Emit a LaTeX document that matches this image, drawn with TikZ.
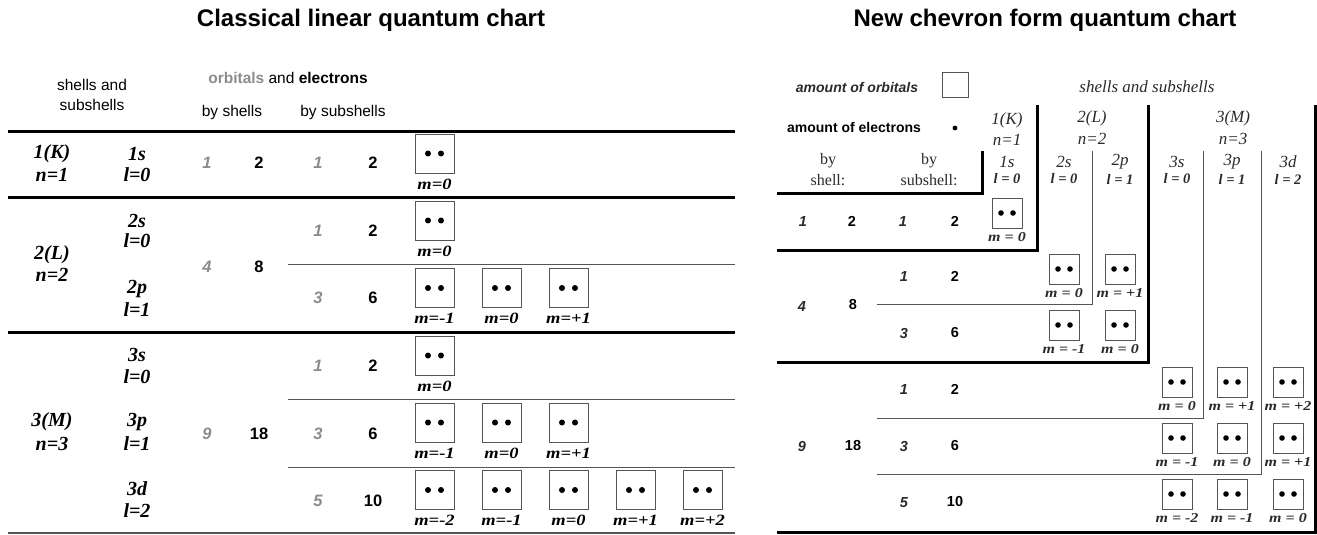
\documentclass[tikz,border=0pt]{standalone}
\usepackage{fontspec}
\usepackage{graphicx}
\setmainfont{Liberation Sans}
\newfontfamily\serf{Liberation Serif}
\definecolor{numgray}{HTML}{8C8C8C}
\definecolor{darknum}{HTML}{2A2A2A}
\definecolor{rulegray}{HTML}{555555}
\definecolor{boxgray}{HTML}{555555}
\newcommand\fs[1]{\fontsize{#1}{#1}\selectfont}
\newcommand\squash[1]{\scalebox{1}[0.85]{#1}}

\tikzset{
  txt/.style={inner sep=0pt, anchor=center},
  ttl/.style={txt, font=\fs{24}\bfseries},
  hdr/.style={txt, font=\fs{15.5}},
  shl/.style={txt, font=\serf\fs{20}\bfseries\itshape},
  gnum/.style={txt, font=\fs{16.5}\bfseries\itshape, text=numgray},
  bnum/.style={txt, font=\fs{16.5}\bfseries},
  rnum/.style={txt, font=\fs{14.5}\bfseries\itshape, text=darknum},
  rbnum/.style={txt, font=\fs{14.5}\bfseries},
  rshl/.style={txt, font=\serf\fs{17}\itshape, text=darknum},
  rlq/.style={txt, font=\serf\fs{14.5}\bfseries\itshape, text=darknum},
  rby/.style={txt, font=\serf\fs{16}, text=darknum},
  mlabL/.style={txt, font=\serf\fs{18.5}\bfseries\itshape},
  mlabR/.style={txt, font=\serf\fs{16}\bfseries\itshape, text=darknum},
  heavy/.style={line width=3pt, black},
  light/.style={line width=1pt, rulegray},
  boxline/.style={line width=1pt, draw=boxgray},
  pics/orbL/.style={code={
    \node[boxline, minimum size=39pt, inner sep=0pt] (-box) at (0,0) {};
    \fill (-6.5,0) circle[radius=3pt] (6.5,0) circle[radius=3pt];
    \node[mlabL] (-lab) at (0,30.5) {\squash{#1}};
  }},
  pics/orbR/.style={code={
    \node[boxline, minimum size=30pt, inner sep=0pt] (-box) at (0,0) {};
    \fill (-6,0) circle[radius=2.8pt] (6,0) circle[radius=2.8pt];
    \node[mlabR] (-lab) at (0,24) {\squash{#1}};
  }},
}

\begin{document}
\begin{tikzpicture}[x=1pt, y=-1pt]
\useasboundingbox (0,0) rectangle (1317,535);

% ---------------- linear chart ----------------
\node[ttl] (tL) at (371,20) {Classical linear quantum chart};

\node[hdr] (hs1) at (92,85) {shells and};
\node[hdr] (hs2) at (92,105) {subshells};
\node[hdr] (hoe) at (288,78) {\textcolor{numgray}{\bfseries orbitals} and \textbf{electrons}};
\node[hdr] (hbs) at (232,112) {by shells};
\node[hdr] (hbss) at (343,112) {by subshells};

% horizontal rules
\draw[heavy] (8,131) -- (735,131);
\draw[heavy] (8,197) -- (735,197);
\draw[heavy] (8,332) -- (735,332);
\draw[light] (288,264) -- (735,264);
\draw[light] (288,399) -- (735,399);
\draw[light] (288,467) -- (735,467);
\draw[line width=1.5pt, rulegray] (8,533) -- (735,533);

% shell n=1
\node[shl] (K) at (52,154) {1(K)};
\node[shl] (Kn) at (52,175) {n=1};
\node[shl] (s1) at (137,154) {1s};
\node[shl] (s1l) at (137,175) {l=0};
\node[gnum] (K1o) at (207,163) {1};
\node[bnum] (K1e) at (259,163) {2};
\node[gnum] (s1o) at (318,163) {1};
\node[bnum] (s1e) at (373,163) {2};
\pic (L1s) at (434.5,153.5) {orbL={m=0}};

% shell n=2
\node[shl] (L) at (52,255) {2(L)};
\node[shl] (Ln) at (52,275) {n=2};
\node[shl] (s2) at (137,221) {2s};
\node[shl] (s2l) at (137,241) {l=0};
\node[shl] (p2) at (137,289) {2p};
\node[shl] (p2l) at (137,310) {l=1};
\node[gnum] (L2o) at (207,267) {4};
\node[bnum] (L2e) at (259,267) {8};
\node[gnum] (s2o) at (318,231) {1};
\node[bnum] (s2e) at (373,231) {2};
\node[gnum] (p2o) at (318,298) {3};
\node[bnum] (p2e) at (373,298) {6};
\pic (L2s) at (434.5,220.5) {orbL={m=0}};
\pic (L2pa) at (434.5,288) {orbL={m=-1}};
\pic (L2pb) at (501.5,288) {orbL={m=0}};
\pic (L2pc) at (568.5,288) {orbL={m=+1}};

% shell n=3
\node[shl] (M) at (52,422) {3(M)};
\node[shl] (Mn) at (52,444) {n=3};
\node[shl] (s3) at (137,355) {3s};
\node[shl] (s3l) at (137,377) {l=0};
\node[shl] (p3) at (137,422) {3p};
\node[shl] (p3l) at (137,444) {l=1};
\node[shl] (d3) at (137,489) {3d};
\node[shl] (d3l) at (137,511) {l=2};
\node[gnum] (M3o) at (207,434) {9};
\node[bnum] (M3e) at (259,434) {18};
\node[gnum] (s3o) at (318,366) {1};
\node[bnum] (s3e) at (373,366) {2};
\node[gnum] (p3o) at (318,434) {3};
\node[bnum] (p3e) at (373,434) {6};
\node[gnum] (d3o) at (318,501) {5};
\node[bnum] (d3e) at (373,501) {10};
\pic (L3s) at (434.5,355.5) {orbL={m=0}};
\pic (L3pa) at (434.5,422.5) {orbL={m=-1}};
\pic (L3pb) at (501.5,422.5) {orbL={m=0}};
\pic (L3pc) at (568.5,422.5) {orbL={m=+1}};
\pic (L3da) at (434.5,490) {orbL={m=-2}};
\pic (L3db) at (501.5,490) {orbL={m=-1}};
\pic (L3dc) at (568.5,490) {orbL={m=0}};
\pic (L3dd) at (635.5,490) {orbL={m=+1}};
\pic (L3de) at (702.5,490) {orbL={m=+2}};

% ---------------- chevron chart ----------------
\node[ttl] (tR) at (1045,20) {New chevron form quantum chart};

\node[txt, font=\fs{14}\bfseries\itshape, text=darknum] (aorb) at (857,87) {amount of orbitals};
\node[boxline, minimum width=26pt, minimum height=24pt, inner sep=0pt] (aorbbox) at (955,85) {};
\node[txt, font=\fs{14}\bfseries] (aele) at (854,127) {amount of electrons};
\fill (955,128) circle[radius=2.4pt];
\node[rshl] (shs) at (1147,87) {shells and subshells};

\node[rby] (by1) at (828,161) {by};
\node[rby] (by1b) at (828,180) {shell:};
\node[rby] (by2) at (929,161) {by};
\node[rby] (by2b) at (929,180) {subshell:};

% chevron rules
\draw[heavy] (777,193) -- (982,193) -- (982,151);
\draw[heavy] (777,250) -- (1037,250) -- (1037,105);
\draw[heavy] (777,362) -- (1148,362) -- (1148,105);
\draw[heavy] (777,532) -- (1315,532) -- (1315,105);
\draw[light] (877,304) -- (1092,304) -- (1092,151);
\draw[light] (877,418) -- (1203,418) -- (1203,151);
\draw[light] (877,474) -- (1261,474) -- (1261,151);

% column heads
\node[rshl] (RK) at (1007,120) {1(K)};
\node[rshl] (RKn) at (1007,140) {n=1};
\node[rshl] (R1s) at (1007,162) {1s};
\node[rlq] (R1sl) at (1007,179) {l = 0};
\node[rshl] (RL) at (1092,118) {2(L)};
\node[rshl] (RLn) at (1092,139) {n=2};
\node[rshl] (R2s) at (1064,162) {2s};
\node[rlq] (R2sl) at (1064,179) {l = 0};
\node[rshl] (R2p) at (1120,162) {2p};
\node[rlq] (R2pl) at (1120,179) {l = 1};
\node[rshl] (RM) at (1233,118) {3(M)};
\node[rshl] (RMn) at (1233,139) {n=3};
\node[rshl] (R3s) at (1177,162) {3s};
\node[rlq] (R3sl) at (1177,179) {l = 0};
\node[rshl] (R3p) at (1232,162) {3p};
\node[rlq] (R3pl) at (1232,179) {l = 1};
\node[rshl] (R3d) at (1288,162) {3d};
\node[rlq] (R3dl) at (1288,179) {l = 2};

% n=1 block
\node[rnum] (r1o) at (803,222) {1};
\node[rbnum] (r1e) at (852,221) {2};
\node[rnum] (r1so) at (903,222) {1};
\node[rbnum] (r1se) at (955,221) {2};
\pic (R1) at (1007,213) {orbR={m = 0}};

% n=2 block
\node[rnum] (r2o) at (802,307) {4};
\node[rbnum] (r2e) at (853,305) {8};
\node[rnum] (r2so) at (904,277) {1};
\node[rbnum] (r2se) at (955,276) {2};
\node[rnum] (r2po) at (904,334) {3};
\node[rbnum] (r2pe) at (955,333) {6};
\pic (R2a) at (1064,269) {orbR={m = 0}};
\pic (R2b) at (1120,269) {orbR={m = +1}};
\pic (R2c) at (1064,325) {orbR={m = -1}};
\pic (R2d) at (1120,325) {orbR={m = 0}};

% n=3 block
\node[rnum] (r3o) at (802,447) {9};
\node[rbnum] (r3e) at (853,446) {18};
\node[rnum] (r3so) at (904,390) {1};
\node[rbnum] (r3se) at (955,389) {2};
\node[rnum] (r3po) at (904,447) {3};
\node[rbnum] (r3pe) at (955,446) {6};
\node[rnum] (r3do) at (904,503) {5};
\node[rbnum] (r3de) at (955,502) {10};
\pic (R3a) at (1177,382) {orbR={m = 0}};
\pic (R3b) at (1232,382) {orbR={m = +1}};
\pic (R3c) at (1288,382) {orbR={m = +2}};
\pic (R3d) at (1177,438) {orbR={m = -1}};
\pic (R3e) at (1232,438) {orbR={m = 0}};
\pic (R3f) at (1288,438) {orbR={m = +1}};
\pic (R3g) at (1177,494) {orbR={m = -2}};
\pic (R3h) at (1232,494) {orbR={m = -1}};
\pic (R3i) at (1288,494) {orbR={m = 0}};
\end{tikzpicture}
\end{document}
